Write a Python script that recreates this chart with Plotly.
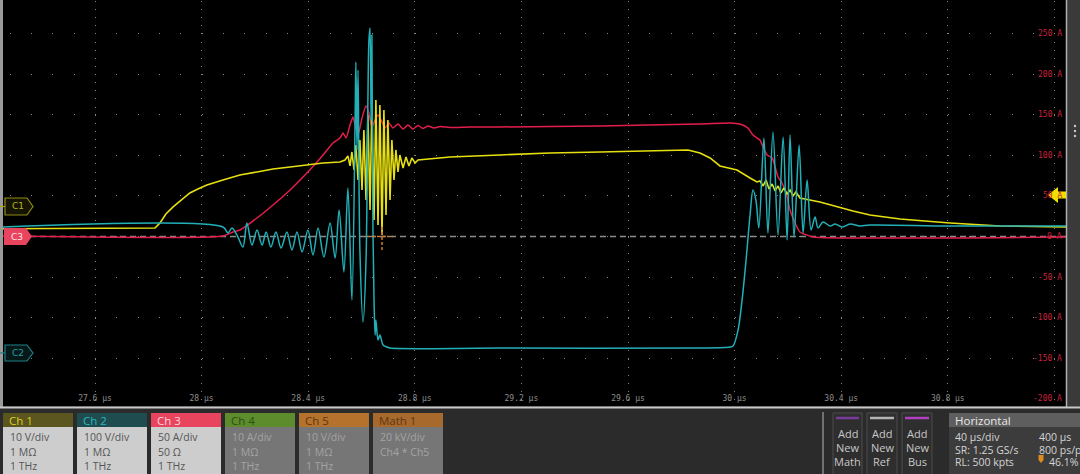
import plotly.graph_objects as go

W, H = 1080, 474

# ---------------- data ----------------
# Ch 1 (yellow), volts
ch1_t = [27.25, 27.825, 27.844, 27.866, 27.893, 27.923, 27.956, 27.986, 28.020, 28.080,
         28.144, 28.208, 28.268, 28.332, 28.395, 28.456, 28.519, 28.538, 28.549, 28.557,
         28.564, 28.572, 28.579, 28.587, 28.594, 28.602, 28.609, 28.617, 28.624, 28.632,
         28.639, 28.647, 28.654, 28.662, 28.669, 28.677, 28.684, 28.692, 28.699, 28.707,
         28.714, 28.722, 28.729, 28.737, 28.744, 28.756, 28.767, 28.778, 28.789, 28.801,
         28.812, 28.932, 29.120, 29.307, 29.495, 29.683, 29.825, 29.870, 29.908, 29.945,
         30.009, 30.058, 30.084, 30.095, 30.107, 30.118, 30.129, 30.141, 30.152, 30.163,
         30.174, 30.185, 30.197, 30.208, 30.219, 30.230, 30.245, 30.320, 30.384, 30.444,
         30.508, 30.621, 30.808, 30.996, 31.25]
ch1_v = [-5.5, -5.3, -4.06, -1.85, -0.12, 1.60, 3.33, 4.31, 5.30, 6.53,
         7.76, 8.50, 9.24, 9.73, 10.22, 10.71, 10.96, 11.45, 12.44, 9.98,
         13.42, 8.99, 15.15, 6.53, 16.38, 4.06, 18.84, 1.60, 22.54, -0.86,
         25.0, -3.33, 26.23, -4.56, 25.0, -7.02, 23.77, -2.09, 21.30, 1.60,
         16.38, 6.53, 13.92, 8.50, 12.68, 9.48, 12.19, 9.98, 11.95, 10.71,
         11.45, 12.19, 12.68, 13.18, 13.42, 13.67, 13.92, 13.18, 11.95, 9.98,
         8.99, 7.02, 6.03, 6.28, 5.05, 6.53, 4.31, 5.54, 3.82, 5.05,
         3.33, 4.56, 3.08, 4.06, 2.59, 3.57, 2.09, 1.11, -0.12, -1.11,
         -2.09, -3.08, -4.06, -4.80, -5.05]

# Ch 2 (cyan), volts
ch2_t = [27.25, 28.080, 28.099, 28.114, 28.133, 28.155, 28.170, 28.189, 28.208, 28.227,
         28.242, 28.260, 28.279, 28.298, 28.320, 28.339, 28.358, 28.377, 28.399, 28.418,
         28.437, 28.459, 28.482, 28.501, 28.516, 28.534, 28.549, 28.564, 28.576, 28.579,
         28.583, 28.587, 28.594, 28.606, 28.617, 28.624, 28.628, 28.632, 28.636, 28.639,
         28.643, 28.647, 28.651, 28.654, 28.662, 28.669, 28.681, 28.696, 28.707, 29.120,
         29.870, 29.983, 29.994, 30.013, 30.028, 30.043, 30.058, 30.069, 30.080, 30.091,
         30.110, 30.125, 30.144, 30.163, 30.182, 30.197, 30.208, 30.223, 30.242, 30.257,
         30.272, 30.287, 30.302, 30.313, 30.332, 30.358, 30.377, 30.403, 30.433, 30.471,
         30.508, 30.808, 31.25]
ch2_v = [310.3, 310.3, 295.6, 307.9, 290.6, 261.1, 320.2, 266.0, 302.9, 266.0,
         298.0, 261.1, 298.0, 258.6, 298.0, 253.7, 298.0, 248.8, 302.9, 241.4,
         307.9, 236.4, 320.2, 234.0, 352.2, 199.5, 406.4, 130.5, 573.9, 716.7,
         500.0, 697.0, 253.7, 76.4, 229.1, 623.1, 770.9, 800.5, 573.9, 783.2,
         302.9, 130.5, 44.3, 81.3, 32.0, 44.3, 19.7, 14.8, 12.3, 12.3,
         12.3, 14.8, 17.2, 56.6, 130.5, 229.1, 339.9, 401.5, 376.8, 307.9,
         529.5, 295.6, 544.3, 290.6, 532.0, 278.3, 536.9, 285.7, 512.3, 295.6,
         426.1, 302.9, 335.0, 307.9, 322.7, 312.8, 317.7, 310.3, 317.7, 312.8,
         315.3, 312.8, 312.8]

# Ch 3 (red), amperes
ch3_t = [27.25, 28.080, 28.118, 28.144, 28.208, 28.268, 28.332, 28.395, 28.433, 28.471,
         28.493, 28.519, 28.531, 28.542, 28.557, 28.568, 28.576, 28.587, 28.602, 28.617,
         28.628, 28.639, 28.651, 28.662, 28.677, 28.688, 28.703, 28.718, 28.737, 28.756,
         28.774, 28.793, 28.812, 28.831, 28.850, 28.872, 28.895, 28.932, 29.007, 29.120,
         29.495, 29.870, 29.983, 30.020, 30.050, 30.069, 30.095, 30.107, 30.122, 30.141,
         30.152, 30.163, 30.178, 30.197, 30.208, 30.227, 30.245, 30.272, 30.294, 31.25]
ch3_a = [0.5, 0.6, 5.5, 8.0, 22.8, 38.8, 57.3, 78.2, 91.7, 106.5,
         115.1, 121.3, 127.5, 121.3, 137.3, 147.2, 137.3, 125.0, 145.9, 160.7,
         152.1, 134.9, 143.5, 149.6, 141.0, 133.6, 139.8, 133.6, 138.5, 132.4,
         137.3, 132.4, 136.7, 133.0, 136.1, 133.6, 135.5, 134.2, 134.9, 134.9,
         136.1, 138.5, 139.8, 138.5, 133.6, 125.0, 118.8, 110.2, 100.4, 96.7,
         85.6, 73.3, 65.9, 48.6, 32.6, 16.6, 5.5, 1.8, -0.6, -0.6]

x_tick_vals = [27.6, 28.0, 28.4, 28.8, 29.2, 29.6, 30.0, 30.4, 30.8, 31.2]
x_tick_text = ["27.6 µs", "28 µs", "28.4 µs", "28.8 µs", "29.2 µs", "29.6 µs",
               "30 µs", "30.4 µs", "30.8 µs", ""]
y_tick_vals = [250, 200, 150, 100, 50, 0, -50, -100, -150, -200]
y_tick_text = ["250 A", "200 A", "150 A", "100 A", "50 A", "0 A",
               "-50 A", "-100 A", "-150 A", "-200 A"]

ch_names = ["Ch 1", "Ch 2", "Ch 3", "Ch 4", "Ch 5", "Math 1"]
ch_line1 = ["10 V/div", "100 V/div", "50 A/div", "10 A/div", "10 V/div", "20 kV/div"]
ch_line2 = ["1 MΩ", "1 MΩ", "50 Ω", "1 MΩ", "1 MΩ", "Ch4 * Ch5"]
ch_line3 = ["1 THz", "1 THz", "1 THz", "1 THz", "1 THz", ""]
add_new = ["Math", "Ref", "Bus"]
horiz_left = ["40 µs/div", "SR: 1.25 GS/s", "RL: 500 kpts"]
horiz_right = ["400 µs", "800 ps/pt", "46.1%"]

# vertical settings (div position / scale)
CH1_SCALE, CH1_POS = 10.0, 0.74
CH2_SCALE, CH2_POS = 100.0, -2.87
CH3_SCALE, CH3_POS = 50.0, 0.0
AXIS_PER_DIV = 50.0


def to_axis(vals, scale, pos):
    return [(pos + v / scale) * AXIS_PER_DIV for v in vals]


# ---------------- styling helpers ----------------
def px(x):
    return x / W


def py(y):
    return 1 - y / H


shapes = []
ann = []


def rect(x0, y0, x1, y1, fill, line=None, width=0, layer="above"):
    shapes.append(dict(type="rect", xref="paper", yref="paper",
                       x0=px(x0), x1=px(x1), y0=py(y1), y1=py(y0),
                       fillcolor=fill, line=dict(color=line or fill, width=width),
                       layer=layer))


def poly(pts, fill, line=None, width=0, layer="above"):
    d = "M " + " L ".join(f"{px(a):.5f},{py(b):.5f}" for a, b in pts) + " Z"
    shapes.append(dict(type="path", xref="paper", yref="paper", path=d,
                       fillcolor=fill, line=dict(color=line or fill, width=width),
                       layer=layer))


def seg(x0, y0, x1, y1, color, width=1, dash="solid", layer="above"):
    shapes.append(dict(type="line", xref="paper", yref="paper",
                       x0=px(x0), x1=px(x1), y0=py(y0), y1=py(y1),
                       line=dict(color=color, width=width, dash=dash), layer=layer))


def text(x, y, s, color, size=11, anchor="left", family="Open Sans"):
    ann.append(dict(xref="paper", yref="paper", x=px(x), y=py(y), text=s,
                    showarrow=False, xanchor=anchor, yanchor="middle",
                    font=dict(family=family, size=size, color=color)))


fig = go.Figure()
fig.add_trace(go.Scatter(x=ch3_t, y=to_axis(ch3_a, CH3_SCALE, CH3_POS), mode="lines",
                         line=dict(color="#e41e4c", width=1.5, shape="spline", smoothing=0.6),
                         hoverinfo="skip"))
fig.add_trace(go.Scatter(x=ch1_t, y=to_axis(ch1_v, CH1_SCALE, CH1_POS), mode="lines",
                         line=dict(color="#e6e010", width=1.6), hoverinfo="skip"))
fig.add_trace(go.Scatter(x=ch2_t, y=to_axis(ch2_v, CH2_SCALE, CH2_POS), mode="lines",
                         line=dict(color="#22b0b8", width=1.5, shape="spline", smoothing=0.9),
                         hoverinfo="skip"))

# right-hand amplitude labels (Ch3 scale), placed on the y axis values
for v, s in zip(y_tick_vals, y_tick_text):
    ann.append(dict(xref="paper", yref="y", x=px(1063.5), y=v, text=s,
                    showarrow=False, xanchor="right", yanchor="middle",
                    font=dict(family="DejaVu Sans Mono", size=8, color="#c8203e")))

# left / right frame pieces of the graticule window
rect(0, 0, 3, 407, "#9a9a9a")
rect(1066, 0, 1080, 407, "#3a3a3a")
seg(1066.5, 0, 1066.5, 407, "#b0b0b0", 1.5)
for yy in (126, 131, 136):
    shapes.append(dict(type="circle", xref="paper", yref="paper",
                       x0=px(1073.8), x1=px(1076.2), y0=py(yy + 1.2), y1=py(yy - 1.2),
                       fillcolor="#c8c8c8", line=dict(width=0)))

# reference (0 A) dashed line + orange cursor marks
seg(30, 236.5, 1066, 236.5, "#8c8c8c", 1.4, "6px,4px", layer="below")
seg(382, 227, 382, 250, "#c87a2a", 1.5, "3px,2px")
seg(367, 236.5, 393, 236.5, "#c87a2a", 1.5, "3px,2px")

# channel markers on the left
seg(0, 206.5, 5, 206.5, "#b0a810", 1.2)
poly([(5, 198), (27, 198), (33, 206.5), (27, 215), (5, 215)], "#141400", "#8f8a18", 1.2)
text(18, 206.5, "C1", "#b8b020", 9, "center", "DejaVu Sans")
poly([(4, 228), (26, 228), (32, 236.5), (26, 245), (4, 245)], "#e8445e")
text(17, 236.5, "C3", "#ffe4e8", 9, "center", "DejaVu Sans")
seg(0, 353, 5, 353, "#1f8086", 1.2)
poly([(5, 345), (27, 345), (33, 353), (27, 361), (5, 361)], "#061818", "#1f8086", 1.2)
text(18, 353, "C2", "#2a9aa0", 9, "center", "DejaVu Sans")

# trigger level arrow (right)
poly([(1048, 195), (1058, 187), (1058, 191.5), (1066, 191.5), (1066, 198.5),
      (1058, 198.5), (1058, 203)], "#f0e000")

# ---------------- bottom control panel ----------------
seg(0, 407.5, W, 407.5, "#c8c8c8", 2)
box_x = [(3, 73), (77, 147), (151, 221), (225, 295), (299, 369), (373, 443)]
hdr_fill = ["#5b5520", "#1f4d4f", "#e8445e", "#5c8c2c", "#b4722c", "#a8692c"]
hdr_text = ["#d8d01c", "#27b8c0", "#ffd6dc", "#2f4d14", "#5e3612", "#5e3612"]
body_fill = ["#cdcdcd", "#cdcdcd", "#cdcdcd", "#767676", "#767676", "#767676"]
body_text = ["#555555", "#555555", "#555555", "#a4a4a4", "#a4a4a4", "#a4a4a4"]
for i, (x0, x1) in enumerate(box_x):
    rect(x0, 413, x1, 427, hdr_fill[i])
    rect(x0, 427, x1, 476, body_fill[i])
    text(x0 + 4, 420, ch_names[i], hdr_text[i], 11.5)
    text(x0 + 5, 437, ch_line1[i], body_text[i], 10.5)
    text(x0 + 5, 452, ch_line2[i], body_text[i], 10.5)
    text(x0 + 5, 466, ch_line3[i], body_text[i], 10.5)

seg(823, 412, 823, 474, "#8a8a8a", 1.5)
add_x = [(833, 862), (867, 897), (902, 932)]
add_col = ["#7a3a9a", "#b4b4b4", "#b040c0"]
for i, (x0, x1) in enumerate(add_x):
    rect(x0, 413, x1, 476, "#2e2e2e", "#4c4c4c", 1)
    seg(x0 + 3, 418, x1 - 3, 418, add_col[i], 2.5)
    xc = (x0 + x1) / 2
    text(xc, 433, "Add", "#c8c8c8", 11, "center")
    text(xc, 447, "New", "#c8c8c8", 11, "center")
    text(xc, 461, add_new[i], "#c8c8c8", 11, "center")

rect(949, 413, 1081, 427, "#5e5e5e")
rect(949, 427, 1081, 476, "#3c3c3c")
text(953, 420.5, "Horizontal", "#e8e8e8", 11.5)
for i, yy in enumerate((437, 449.5, 462)):
    text(953, yy, horiz_left[i], "#d4d4d4", 10.5)
text(1037, 437, horiz_right[0], "#d4d4d4", 10.5)
text(1037, 449.5, horiz_right[1], "#d4d4d4", 10.5)
text(1047, 462, horiz_right[2], "#d4d4d4", 10.5)
poly([(1038.5, 455), (1043.5, 455), (1043.5, 460), (1041, 463), (1038.5, 460)], "#e08a20")

fig.update_layout(
    width=W, height=H, margin=dict(l=0, r=0, t=0, b=0),
    paper_bgcolor="#2b2b2b", plot_bgcolor="#000000",
    showlegend=False, hovermode=False,
    shapes=shapes, annotations=ann,
    xaxis=dict(domain=[px(3), px(1066)], range=[27.2548, 31.2435],
               tickvals=x_tick_vals, ticktext=x_tick_text, ticks="",
               ticklabelposition="inside", showline=False, zeroline=False,
               showgrid=True, gridcolor="#858585", gridwidth=1.2,
               griddash="0px,0.85px,1px,6.28px",
               tickfont=dict(family="DejaVu Sans Mono", size=8, color="#8e8e8e")),
    yaxis=dict(domain=[py(406), 1], range=[-208.74, 291.25], side="right",
               tickvals=y_tick_vals, showticklabels=False, ticks="",
               showline=False, zeroline=False,
               showgrid=True, gridcolor="#858585", gridwidth=1.2,
               griddash="0px,6.7px,1px,13.62px"),
)

fig.write_html("out.html", config={"displayModeBar": False},
               post_script="document.body.style.margin='0px';document.body.style.overflow='hidden';")
